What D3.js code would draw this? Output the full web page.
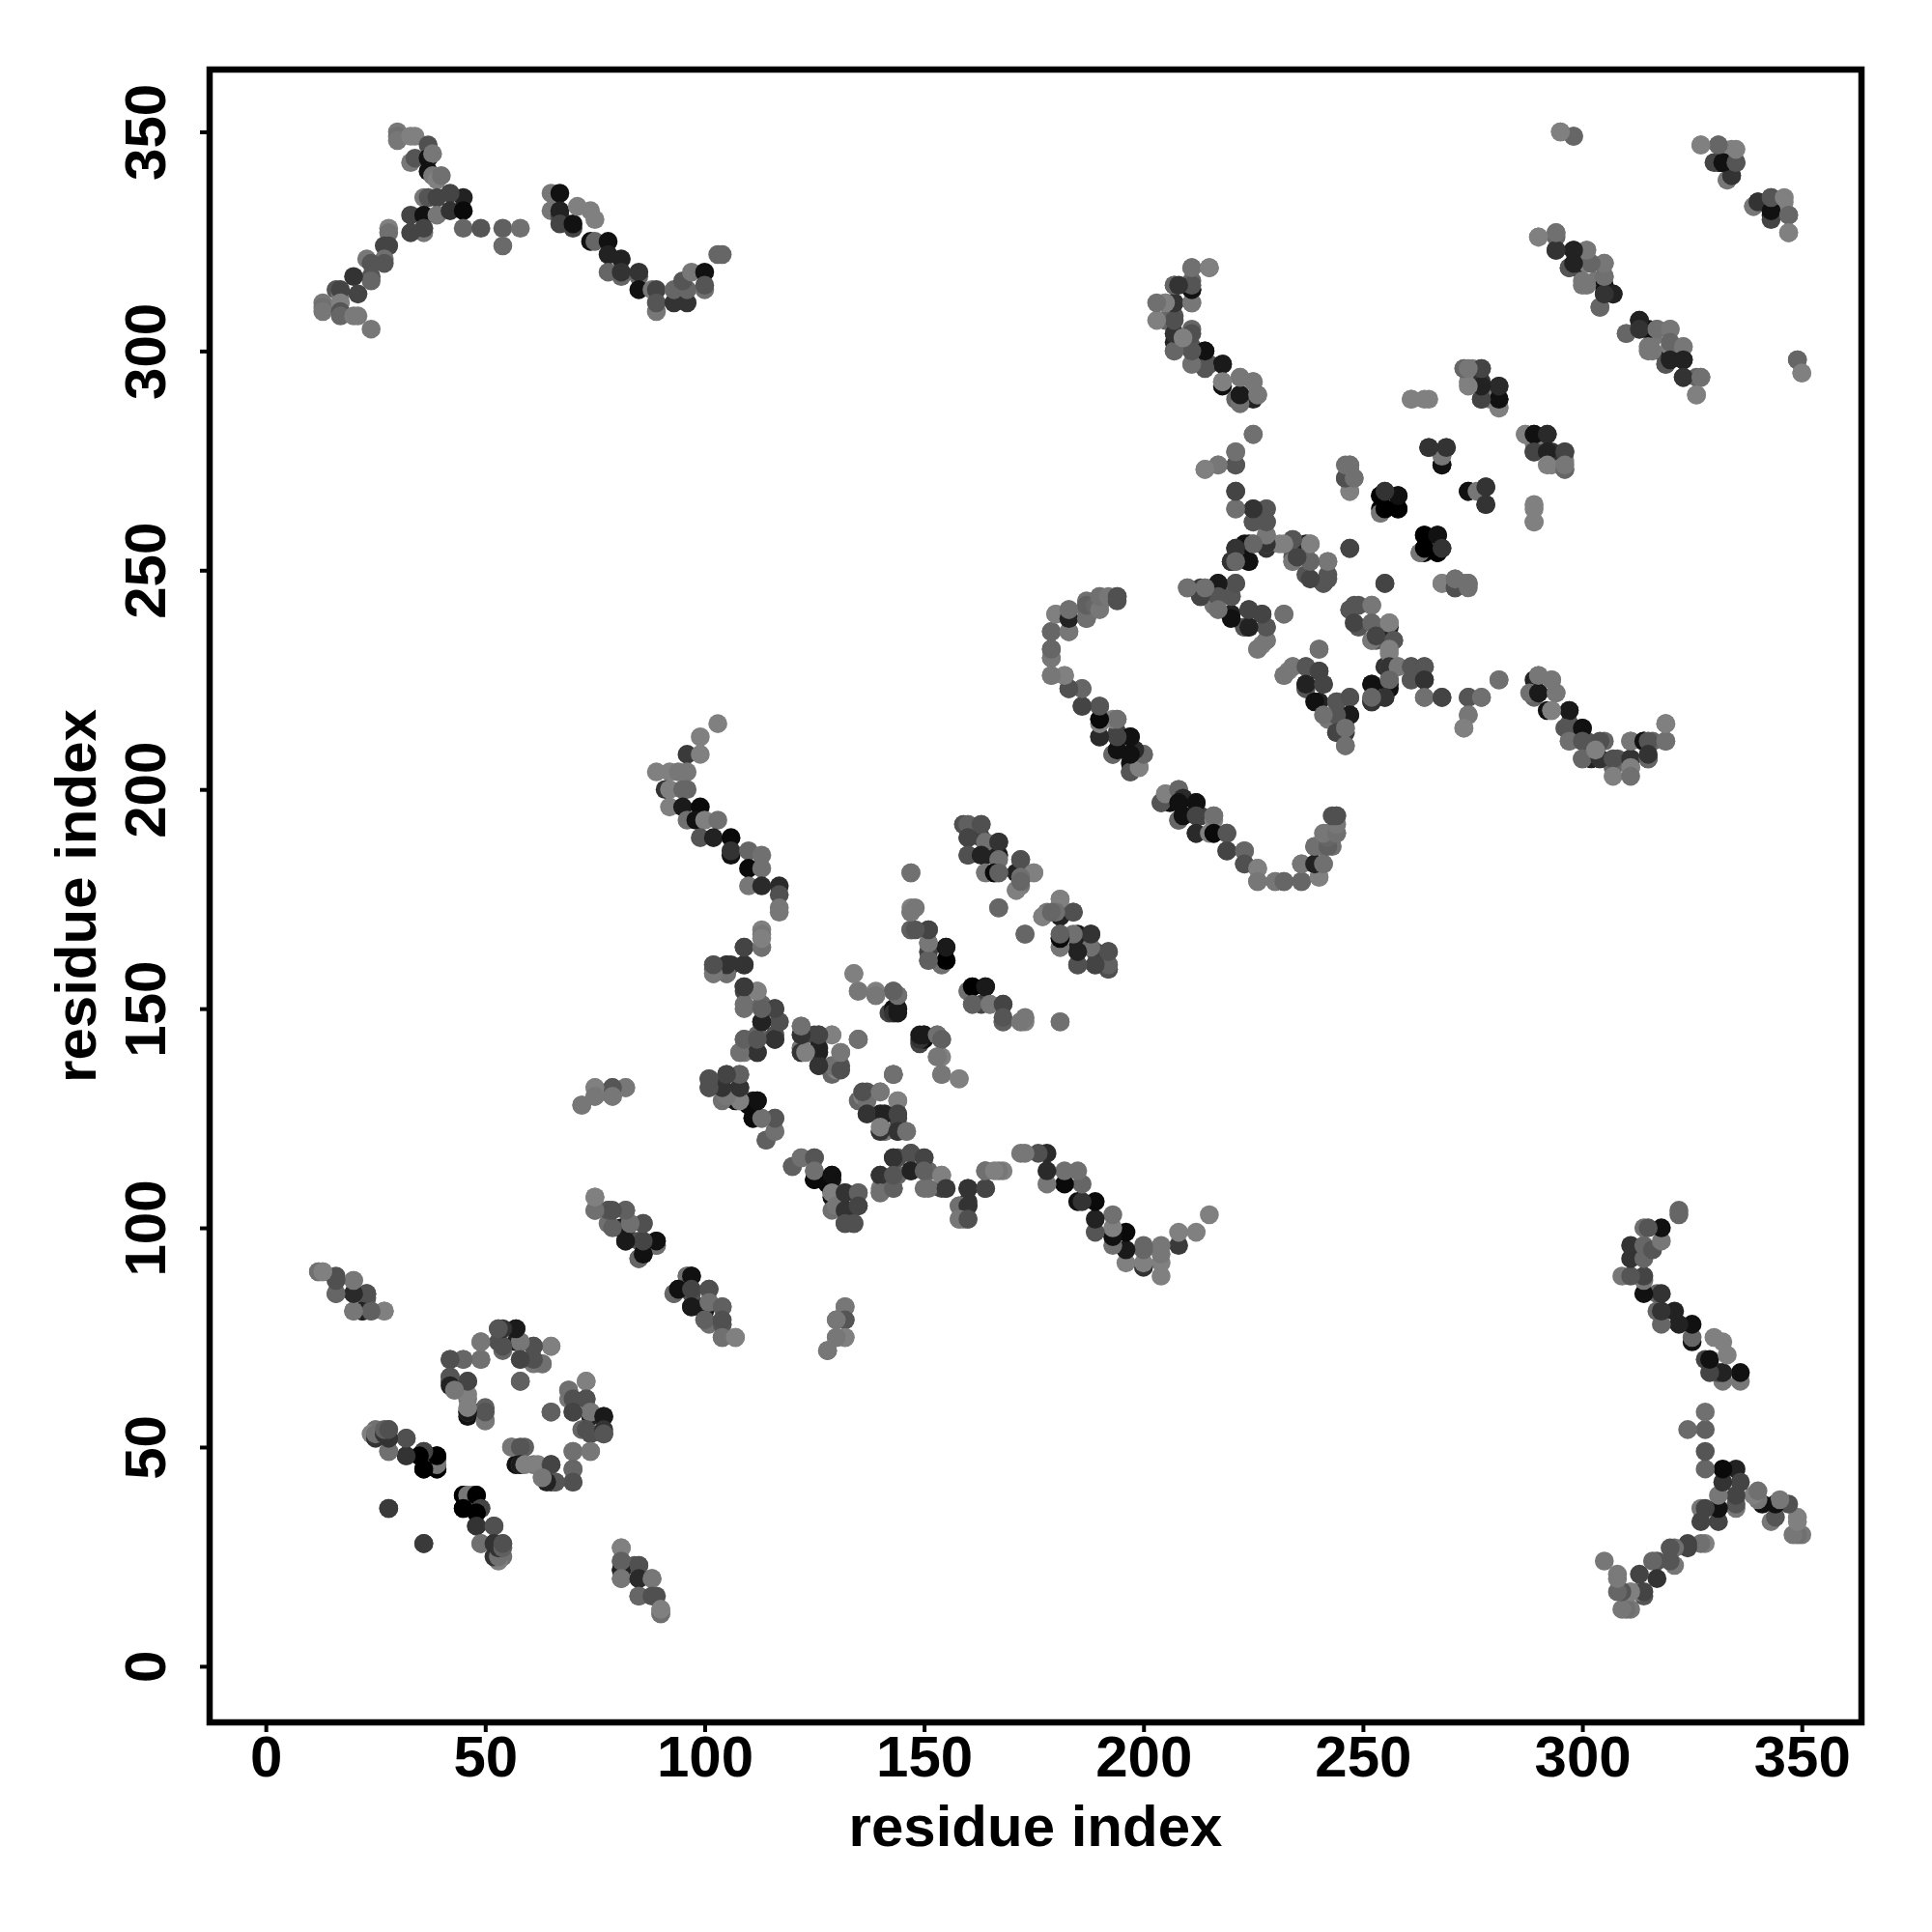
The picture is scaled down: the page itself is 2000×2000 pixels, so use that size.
<!DOCTYPE html>
<html><head><meta charset="utf-8">
<style>html,body{margin:0;padding:0;background:#fff}svg{display:block}</style>
<script src="https://cdn.jsdelivr.net/npm/d3@7"></script></head>
<body><div id="chart"></div>
<script>
// Each entry: [residue i, residue j, grey level]; the map is symmetric, so each contact is also drawn as (j, i).
const tickValues = [0,50,100,150,200,250,300,350];
const axisTitle = "residue index";
const armTerminus = [[30,350,120],[30,349,112],[30,348,119],[33,349,128],[34,349,128],[37,347,80],[33,343,119],[34,344,85],[37,344,17],[38,345,119],[37,341,17],[38,340,119],[39,339,128],[40,340,112],[45,335,34],[36,335,119],[37,335,85],[39,335,68],[42,336,68],[33,331,68],[36,331,17],[39,331,119],[42,332,51],[45,332,10],[45,328,102],[49,328,85],[54,328,96],[58,328,112],[54,324,106],[36,327,119],[33,327,68],[36,328,68],[28,328,128],[28,327,112],[27,324,68],[28,324,68],[27,321,112],[27,320,85],[23,321,119],[24,320,85],[24,317,85],[24,316,102],[20,317,51],[16,314,85],[17,313,119],[17,314,68],[21,313,68],[13,311,119],[13,310,112],[13,309,119],[17,311,128],[17,309,85],[17,308,102],[20,308,122],[21,308,122],[24,305,119]];
const armLinker = [[65,336,119],[67,336,17],[65,332,119],[67,331,68],[67,332,34],[67,329,68],[70,328,68],[70,329,17],[71,333,128],[74,332,128],[75,330,128],[74,325,17],[75,325,102],[78,325,17],[78,322,34],[81,321,34],[78,318,102],[81,317,102],[81,318,51],[85,317,102],[85,318,51],[85,314,17],[88,314,119],[89,314,68],[89,309,119],[89,311,85],[93,311,51],[93,314,102],[96,311,51],[96,314,102],[95,316,85],[97,318,119],[100,318,17],[100,314,112],[100,315,85],[103,322,102],[104,322,102]];
const cornerPairs = [[295,350,128],[298,349,112],[327,347,128],[331,347,102],[334,346,128],[333,339,119],[331,343,17],[332,343,17],[335,343,68],[334,340,51],[339,333,119],[340,334,51],[343,330,68],[343,332,17],[343,335,85],[346,335,128],[347,331,102],[347,327,128],[290,326,128],[294,327,128],[294,326,102],[294,323,51],[298,323,34],[301,323,128],[297,319,51],[299,319,34],[301,320,128],[305,320,119],[300,315,119],[303,316,119],[305,315,17],[305,317,119],[305,313,34],[307,313,34],[304,310,102],[310,304,102],[313,307,34],[313,305,51],[317,305,112],[320,305,119],[315,301,119],[316,300,119],[320,302,102],[323,301,119],[319,297,85],[320,298,34],[323,298,34],[323,294,51],[327,294,112],[326,290,128],[349,298,102],[350,295,128]];
const sheetNorth = [[215,319,112],[211,319,102],[207,315,51],[211,314,0],[211,316,102],[207,311,68],[211,311,119],[205,311,128],[207,308,85],[205,307,102],[207,304,128],[211,305,102],[207,302,34],[207,300,102],[211,301,85],[211,297,119],[214,300,17],[214,297,68],[215,297,85],[218,297,34],[218,292,17],[218,293,128],[222,294,128],[225,293,128],[221,289,102],[222,290,34],[225,289,34],[226,290,102],[261,289,128],[264,289,128]];
const sheetMiddle = [[273,296,128],[275,296,128],[277,296,68],[274,293,128],[277,293,51],[281,292,42],[277,289,51],[279,289,119],[281,289,17],[281,287,119],[287,281,128],[289,281,17],[292,281,42],[289,277,68],[292,277,34],[296,277,68],[292,274,128],[296,273,102],[296,274,119],[289,265,128],[289,261,128],[265,278,51],[269,278,58],[268,274,17],[274,268,17],[276,268,119],[278,269,51],[278,265,51],[254,267,0],[255,268,42],[258,267,0],[254,263,119],[254,264,0],[258,264,0],[255,264,0],[247,274,112],[247,273,112],[246,271,85],[248,271,112],[247,268,128],[263,254,119],[264,258,0],[267,258,17],[264,255,0],[267,254,0],[268,255,51],[247,255,68],[255,247,68],[268,247,128],[271,246,80],[271,248,112],[274,247,112],[274,246,112]];
const sheetCrossing = [[221,277,112],[221,274,85],[217,274,128],[214,273,128],[225,281,112],[221,268,68],[221,264,112],[225,264,51],[228,264,85],[225,261,80],[228,261,85],[228,255,51],[228,258,112],[228,256,102],[224,256,17],[225,256,102],[221,255,51],[224,252,34],[220,252,34],[221,252,102],[231,256,128],[234,257,85],[237,256,34],[238,256,119],[234,253,85],[234,252,119],[237,253,102],[242,252,119],[237,249,85],[242,249,85],[241,247,102],[210,246,112],[213,246,58],[214,246,112],[217,247,26],[221,247,85],[213,244,51],[216,242,119],[217,244,85],[220,244,85],[220,240,34],[224,241,68],[227,240,51],[232,240,112],[223,237,119],[224,237,34],[228,237,85],[228,234,112],[227,233,128],[226,232,128],[240,232,112],[247,241,85],[248,242,85],[252,242,119],[248,238,68],[252,238,102],[256,238,128],[252,234,119],[253,235,68],[257,234,85],[256,232,128]];
const sheetSouth = [[232,226,119],[234,228,119],[237,228,85],[240,227,68],[237,223,85],[237,224,34],[241,224,68],[239,220,17],[244,220,85],[247,221,80],[247,217,26],[244,217,85],[241,217,112],[244,213,68],[246,214,112],[246,210,112],[252,224,17],[256,223,17],[256,228,51],[258,228,119],[261,228,85],[264,228,85],[256,225,102],[255,221,51],[252,220,51],[252,221,102],[261,225,85],[264,225,51],[264,221,112],[268,221,68],[274,221,85],[277,221,112],[281,225,112],[274,217,119],[273,214,128],[288,222,112],[290,222,26],[290,226,119],[293,225,119],[294,222,119],[297,218,26],[293,218,128],[296,214,85],[300,214,17],[297,211,112],[300,211,85],[304,211,80],[300,207,102],[304,207,51],[303,209,128],[307,207,80],[307,203,128],[311,207,51],[311,211,119],[311,205,128],[311,203,112],[314,211,17],[315,211,85],[315,207,102],[315,208,51],[319,211,112],[319,215,128]];
const archStrand = [[194,244,80],[190,244,128],[190,242,119],[187,243,112],[187,241,112],[187,239,102],[183,241,119],[183,239,128],[183,236,119],[180,240,128],[179,236,102],[179,232,85],[179,230,112],[179,226,128],[182,226,128],[183,223,80],[186,223,112],[186,219,68],[190,219,102],[190,216,26],[194,216,102],[190,212,42],[193,208,102],[194,213,68],[194,209,17],[197,212,17],[198,209,51],[200,208,102],[197,204,68],[197,206,17],[199,205,119],[204,197,85],[205,199,128],[208,200,102],[209,198,42],[208,197,17],[212,197,17],[208,193,102],[209,194,17],[212,194,68],[216,193,128],[216,194,112],[212,190,42],[215,190,128],[216,190,10],[219,190,85],[219,186,68],[223,186,102],[223,183,80],[226,182,128],[226,179,119],[230,179,119],[232,179,102],[236,179,102],[236,183,119],[240,180,128],[239,183,34],[241,183,112],[239,187,112],[242,187,96],[242,189,102],[241,190,119],[244,190,112],[244,192,119],[243,194,80],[244,194,80]];
const helixUpper = [[181,175,128],[184,172,80],[181,173,119],[177,171,128],[178,172,119],[181,171,34],[181,167,102],[181,166,17],[173,167,112],[181,164,128],[185,167,26],[188,167,42],[185,164,34],[185,160,85],[189,163,68],[192,163,68],[189,160,58],[192,159,51],[192,160,85],[172,184,80],[175,181,128],[172,180,112],[171,177,128],[172,179,102],[159,192,80],[160,192,96],[163,192,80],[160,189,68],[164,188,112],[167,188,51],[160,185,80],[163,185,34],[167,184,112],[164,181,119],[166,181,10],[167,181,96],[147,181,128],[167,173,102]];
const sheetCore = [[103,215,128],[99,212,128],[96,208,58],[99,208,128],[89,204,128],[92,204,128],[94,204,119],[96,204,119],[91,200,51],[92,200,128],[95,200,102],[96,200,102],[92,196,128],[95,196,26],[99,196,10],[96,193,112],[98,193,17],[100,193,128],[103,193,112],[99,189,85],[102,189,34],[106,189,10],[106,185,17],[106,186,51],[110,186,102],[113,185,112],[110,182,10],[113,182,112],[110,178,119],[113,178,42],[117,178,42],[117,176,80],[117,173,119],[117,172,119],[113,168,128],[113,167,119],[113,164,128],[109,164,68],[109,160,42],[105,160,58],[106,160,51],[102,160,96],[102,159,96],[105,158,112],[102,158,119],[109,155,68],[109,154,68],[112,154,128],[109,151,112],[113,151,102],[116,150,80],[113,147,34],[117,147,85],[112,144,102],[109,143,112],[116,143,51],[116,144,80],[112,140,68],[108,140,119],[109,140,119]];
const sheetCentre = [[122,146,119],[122,144,68],[122,141,51],[122,141,119],[122,140,128],[125,144,68],[126,144,68],[129,144,128],[135,143,112],[126,140,34],[131,140,119],[126,137,51],[131,137,85],[129,135,102],[130,136,128],[134,158,128],[135,154,119],[139,154,128],[139,153,128],[142,149,68],[143,150,17],[144,150,26],[143,154,112],[144,153,96],[143,135,112],[147,168,96],[151,168,80],[147,173,128],[147,172,128],[151,163,68],[151,165,112],[151,161,119],[154,160,112],[155,164,17],[155,161,10],[149,143,51],[149,144,26],[150,144,26],[153,144,112],[154,143,96],[153,139,119],[154,135,119],[158,134,128],[160,154,112],[161,155,0],[164,155,26],[161,151,96],[165,151,119],[168,151,68],[168,147,96],[168,148,85],[172,147,119],[173,148,119],[181,147,112]];
const sheetLower = [[101,134,80],[101,132,85],[105,135,80],[108,135,102],[104,132,34],[105,130,119],[108,132,51],[107,129,17],[104,129,112],[108,129,17],[111,129,26],[112,129,26],[111,125,10],[113,125,119],[116,125,85],[116,122,119],[114,120,102],[72,128,112],[75,132,128],[75,130,112],[79,130,119],[79,132,85],[82,132,112],[120,114,96],[122,116,112],[125,116,85],[125,111,10],[125,113,112],[128,110,10],[129,112,17],[129,108,128],[130,105,119],[132,108,51],[135,108,96],[132,104,51],[135,105,68],[132,101,80],[134,101,80],[137,129,112],[136,131,80],[140,131,119],[144,129,128],[137,126,51],[141,126,34],[144,126,68],[140,122,51],[140,123,128],[144,122,51],[146,122,112],[143,135,112],[140,112,51],[140,108,112],[143,109,96],[143,116,51],[143,112,85],[147,117,80],[147,113,34],[150,116,68],[150,109,112],[150,113,96],[154,112,128],[155,109,58],[160,109,51],[164,109,68],[164,113,112],[166,113,128],[158,105,112],[160,105,51],[158,102,119],[160,102,80]];
const sheetDiagonal = [[75,107,128],[75,104,112],[78,104,96],[82,104,96],[78,101,112],[82,99,58],[83,101,119],[86,101,80],[82,97,26],[85,97,80],[89,96,85],[89,97,17],[85,93,102],[86,94,17],[96,89,112],[97,89,17],[93,85,102],[94,86,17],[97,86,68],[101,86,80],[97,82,26],[100,81,26],[101,83,112],[104,82,96],[100,79,96],[104,78,85],[104,79,80],[104,75,112],[107,75,128],[132,82,119],[132,79,85],[130,79,119],[132,75,128],[130,75,119],[128,72,119]];
const sheetStart = [[12,90,128],[13,90,128],[16,89,80],[20,88,128],[16,85,96],[20,85,42],[23,85,85],[23,84,85],[20,81,119],[22,81,34],[24,81,112],[27,81,128],[49,74,128],[53,77,58],[53,74,80],[57,77,26],[57,74,34],[58,74,128],[58,70,85],[61,73,68],[65,73,128],[61,69,119],[63,69,119],[42,70,80],[45,70,102],[49,70,119],[42,66,102],[42,65,51],[43,63,112],[46,65,80],[46,61,119],[46,57,17],[46,58,112],[49,58,17],[50,59,96],[50,56,128],[58,65,102],[65,58,96],[69,63,112],[70,61,80],[73,65,128],[73,61,80],[74,58,119],[70,58,68],[77,57,26],[72,54,102],[73,54,80],[77,54,51],[77,53,85],[56,50,119],[58,50,85],[70,49,112],[74,49,119],[58,46,26],[59,46,128],[62,46,128],[65,46,68],[70,45,102],[70,42,80],[66,42,85],[64,42,34],[63,43,119]];
const sheetHairpin = [[28,54,96],[25,54,112],[24,53,128],[28,52,34],[25,52,51],[32,52,80],[28,49,119],[32,48,68],[36,49,68],[36,45,0],[39,47,112],[39,45,0],[39,48,0],[28,36,58],[36,28,58],[45,39,0],[46,39,119],[48,39,0],[45,36,0],[49,36,68],[48,35,0],[48,32,51],[52,32,80],[49,28,112],[53,25,112],[52,28,51],[53,27,51],[54,27,96],[54,28,80],[81,27,128],[81,22,34],[81,24,96],[81,20,119],[85,23,80],[85,20,42],[85,16,102],[88,20,119],[88,16,80],[90,12,112],[90,13,128]];

const contacts = [armTerminus,armLinker,cornerPairs,sheetNorth,sheetMiddle,sheetCrossing,sheetSouth,archStrand,helixUpper,sheetCore,sheetCentre,sheetLower,sheetDiagonal,sheetStart,sheetHairpin].flat();

const W = 2000, H = 2000;
const box = {l:217, r:1927, t:72, b:1783};
const x = d3.scaleLinear().domain([-12.8,363.6]).range([box.l,box.r]);
const y = d3.scaleLinear().domain([-12.8,364.2]).range([box.b,box.t]);
const font = "'Liberation Sans', Arial, sans-serif";

const svg = d3.select("#chart").append("svg").attr("width",W).attr("height",H).style("background","#fff");

const g = svg.append("g");
const mirrored = contacts.flatMap(d => [{i:d[0],j:d[1],g:d[2]},{i:d[1],j:d[0],g:d[2]}]);
g.selectAll("circle").data(mirrored).join("circle")
  .attr("cx",d=>x(d.i)).attr("cy",d=>y(d.j)).attr("r",9.8)
  .attr("fill",d=>d3.rgb(d.g,d.g,d.g));

const xAxis = svg.append("g").attr("transform",`translate(0,${box.b})`)
  .call(d3.axisBottom(x).tickValues(tickValues).tickSize(10).tickFormat(d3.format("d")));
const yAxis = svg.append("g").attr("transform",`translate(${box.l},0)`)
  .call(d3.axisLeft(y).tickValues(tickValues).tickSize(10).tickFormat(d3.format("d")));
[xAxis,yAxis].forEach(a=>{
  a.select(".domain").remove();
  a.selectAll("line").attr("stroke","#000").attr("stroke-width",4);
  a.selectAll("text").attr("fill","#000").style("font-family",font).style("font-weight","bold").style("font-size","60px");
});
xAxis.selectAll("text").attr("y",56).attr("dy",0);
yAxis.selectAll("text").attr("x",0).attr("dy",0).attr("y",-46).attr("text-anchor","middle").attr("transform","rotate(-90)");

svg.append("rect").attr("x",box.l).attr("y",box.t).attr("width",box.r-box.l).attr("height",box.b-box.t)
  .attr("fill","none").attr("stroke","#000").attr("stroke-width",6.5);

svg.append("text").attr("x",(box.l+box.r)/2).attr("y",1911).attr("text-anchor","middle")
  .style("font-family",font).style("font-weight","bold").style("font-size","60px").text(axisTitle);
svg.append("text").attr("transform",`translate(99,${(box.t+box.b)/2}) rotate(-90)`).attr("text-anchor","middle")
  .style("font-family",font).style("font-weight","bold").style("font-size","60px").text(axisTitle);
</script></body></html>
